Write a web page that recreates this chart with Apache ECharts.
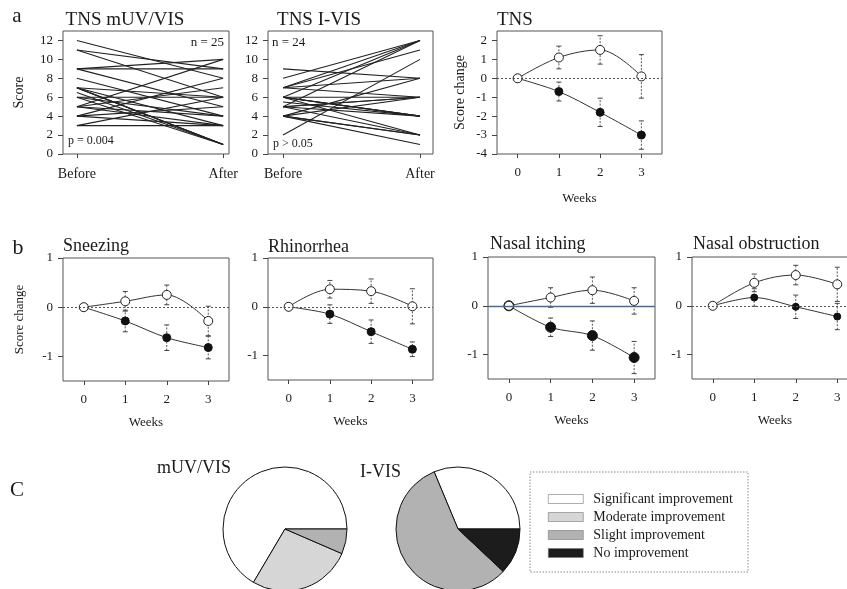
<!DOCTYPE html>
<html><head><meta charset="utf-8">
<script src="https://cdn.jsdelivr.net/npm/echarts@6/dist/echarts.min.js"></script>
<style>html,body{margin:0;padding:0;background:#fff}#c{width:847px;height:589px}</style>
</head><body><div id="c"></div>
<script>
// ---------- DATA ----------
const beforeAfterLabels = ['Before', 'After'];
const mUVBefore = [12, 11, 11, 9, 9, 9, 8, 7, 7, 7, 7, 6.5, 7, 6, 6, 6, 5, 5, 5, 5, 4, 4, 4, 3, 3];
const mUVAfter  = [8, 6, 9, 9, 10, 5, 4, 1, 1, 1, 3, 1, 6, 1, 4, 6, 10, 7, 3, 4, 8, 5, 3, 3, 6];
const iVISBefore = [9, 8, 7, 7, 7, 7, 6, 6, 6, 6, 6, 6, 5.5, 5, 5, 5, 5, 5, 4, 4, 4, 4, 4, 2];
const iVISAfter  = [8, 12, 12, 11, 6, 8, 12, 4, 4, 4, 2, 6, 4, 6, 6, 2, 12, 4, 8, 2, 2, 6, 1, 10];

const weeks = [0, 1, 2, 3];
const tnsOpen = [0, 1.1, 1.5, 0.1];
const tnsOpenErr = [0, 0.6, 0.75, 1.15];
const tnsFilled = [0, -0.7, -1.8, -3.0];
const tnsFilledErr = [0, 0.5, 0.75, 0.75];

const sneezingOpen = [0, 0.12, 0.25, -0.28];
const sneezingOpenErr = [0, 0.2, 0.2, 0.3];
const sneezingFilled = [0, -0.28, -0.62, -0.82];
const sneezingFilledErr = [0, 0.22, 0.26, 0.23];

const rhinorrheaOpen = [0, 0.36, 0.32, 0.01];
const rhinorrheaOpenErr = [0, 0.18, 0.25, 0.36];
const rhinorrheaFilled = [0, -0.15, -0.51, -0.87];
const rhinorrheaFilledErr = [0, 0.19, 0.24, 0.15];

const itchingOpen = [0, 0.17, 0.32, 0.1];
const itchingOpenErr = [0, 0.2, 0.27, 0.27];
const itchingFilled = [0, -0.44, -0.61, -1.06];
const itchingFilledErr = [0, 0.19, 0.3, 0.33];

const obstructionOpen = [0, 0.47, 0.63, 0.44];
const obstructionOpenErr = [0, 0.18, 0.2, 0.35];
const obstructionFilled = [0, 0.17, -0.02, -0.22];
const obstructionFilledErr = [0, 0.18, 0.24, 0.27];

const tnsTicks = [-4, -3, -2, -1, 0, 1, 2];
const scoreTicks = [0, 2, 4, 6, 8, 10, 12];
const symptomTicks = [-1, 0, 1];

const improvementCategories = ['Significant improvement', 'Moderate improvement', 'Slight improvement', 'No improvement'];
const pieMUV = [66.5, 27, 6.5, 0];
const pieIVIS = [31.3, 0, 56.7, 12];

// ---------- STYLE ----------
const FONT = '"Liberation Serif", "DejaVu Serif", serif';
const INK = '#1a1a1a';
const BOX = '#555';
const pieColors = ['#ffffff', '#d6d6d6', '#b2b2b2', '#1c1c1c'];

const grids = [
  {left: 63, top: 31, width: 166, height: 123},
  {left: 268, top: 31, width: 165, height: 123},
  {left: 497, top: 31, width: 165, height: 123},
  {left: 63, top: 258, width: 166, height: 123},
  {left: 268, top: 258, width: 165, height: 122},
  {left: 488, top: 257, width: 167, height: 122},
  {left: 692, top: 257, width: 166, height: 122}
].map(g => Object.assign({show: true, borderColor: BOX, borderWidth: 1, backgroundColor: 'transparent', containLabel: false, outerBoundsMode: 'none'}, g));

function xAxisCfg(gi, min, max, values, formatter, name, nameGap) {
  return {
    type: 'value', gridIndex: gi, min: min, max: max, position: 'bottom',
    splitLine: {show: false}, axisLine: {show: false, onZero: false},
    axisTick: {show: true, length: 4, customValues: values, lineStyle: {color: '#444'}},
    axisLabel: {customValues: values, formatter: formatter, color: INK, fontFamily: FONT, fontSize: gi < 2 ? 14 : 13, margin: gi < 2 ? 13 : 12},
    name: name || '', nameLocation: 'middle', nameGap: nameGap || 30,
    nameTextStyle: {fontFamily: FONT, fontSize: 13, color: INK}
  };
}
function yAxisCfg(gi, min, max, values, name, nameGap, nameSize) {
  return {
    type: 'value', gridIndex: gi, min: min, max: max, position: 'left',
    splitLine: {show: false}, axisLine: {show: false, onZero: false},
    axisTick: {show: true, length: 5, customValues: values, lineStyle: {color: '#444'}},
    axisLabel: {customValues: values, color: INK, fontFamily: FONT, fontSize: 13, margin: 10},
    name: name || '', nameLocation: 'middle', nameGap: nameGap || 30, nameRotate: 90,
    nameTextStyle: {fontFamily: FONT, fontSize: nameSize || 14, color: INK}
  };
}

const xAxes = [
  xAxisCfg(0, -0.095, 1.04, [0, 1], v => beforeAfterLabels[v]),
  xAxisCfg(1, -0.11, 1.095, [0, 1], v => beforeAfterLabels[v]),
  xAxisCfg(2, -0.5, 3.5, weeks, null, 'Weeks', 38),
  xAxisCfg(3, -0.5, 3.5, weeks, null, 'Weeks', 35),
  xAxisCfg(4, -0.5, 3.5, weeks, null, 'Weeks', 35),
  xAxisCfg(5, -0.5, 3.5, weeks, null, 'Weeks', 35),
  xAxisCfg(6, -0.5, 3.5, weeks, null, 'Weeks', 35)
];
const yAxes = [
  yAxisCfg(0, 0, 13, scoreTicks, 'Score', 37),
  yAxisCfg(1, 0, 13, scoreTicks),
  yAxisCfg(2, -4, 2.5, tnsTicks, 'Score change', 30),
  yAxisCfg(3, -1.5, 1, symptomTicks, 'Score change', 37, 13),
  yAxisCfg(4, -1.5, 1, symptomTicks),
  yAxisCfg(5, -1.5, 1, symptomTicks),
  yAxisCfg(6, -1.5, 1, symptomTicks)
];

const series = [];

function pairLines(gi, before, after) {
  before.forEach((b, i) => {
    series.push({
      type: 'line', xAxisIndex: gi, yAxisIndex: gi, silent: true,
      showSymbol: false, symbol: 'none',
      lineStyle: {color: '#222', width: 1.1},
      data: [[0, b], [1, after[i]]]
    });
  });
}
pairLines(0, mUVBefore, mUVAfter);
pairLines(1, iVISBefore, iVISAfter);

function errBars(gi, mean, err) {
  const data = [];
  weeks.forEach((w, i) => { if (err[i] > 0) data.push([w, mean[i] - err[i], mean[i] + err[i]]); });
  series.push({
    type: 'custom', xAxisIndex: gi, yAxisIndex: gi, silent: true, z: 1,
    encode: {x: 0, y: [1, 2]},
    data: data,
    renderItem: function (params, api) {
      const x = api.value(0);
      const p1 = api.coord([x, api.value(1)]);
      const p2 = api.coord([x, api.value(2)]);
      const c = 2.5;
      const st = {stroke: '#444', lineWidth: 1};
      return {type: 'group', children: [
        {type: 'line', shape: {x1: p1[0], y1: p1[1], x2: p2[0], y2: p2[1]}, style: {stroke: '#555', lineWidth: 1, lineDash: [2, 1.5]}},
        {type: 'line', shape: {x1: p1[0] - c, y1: p1[1], x2: p1[0] + c, y2: p1[1]}, style: st},
        {type: 'line', shape: {x1: p2[0] - c, y1: p2[1], x2: p2[0] + c, y2: p2[1]}, style: st}
      ]};
    }
  });
}

function timePanel(gi, open, openErr, filled, filledErr, zeroLine, filledSize) {
  errBars(gi, open, openErr);
  errBars(gi, filled, filledErr);
  series.push({
    type: 'line', xAxisIndex: gi, yAxisIndex: gi, z: 3, silent: true,
    smooth: 0.3, symbol: 'circle', symbolSize: filledSize || 8,
    itemStyle: {color: '#111', borderColor: '#111', borderWidth: 1},
    lineStyle: {color: '#333', width: 1},
    data: weeks.map((w, i) => [w, filled[i]]),
    markLine: {
      silent: true, symbol: 'none', label: {show: false},
      lineStyle: zeroLine,
      data: [{yAxis: 0}]
    }
  });
  series.push({
    type: 'line', xAxisIndex: gi, yAxisIndex: gi, z: 4, silent: true,
    smooth: 0.35, symbol: 'circle', symbolSize: 9,
    itemStyle: {color: '#fff', borderColor: '#222', borderWidth: 1},
    lineStyle: {color: '#333', width: 1},
    data: weeks.map((w, i) => [w, open[i]])
  });
}
const dottedZero = {color: '#555', width: 1, type: [2, 2]};
timePanel(2, tnsOpen, tnsOpenErr, tnsFilled, tnsFilledErr, dottedZero);
timePanel(3, sneezingOpen, sneezingOpenErr, sneezingFilled, sneezingFilledErr, dottedZero);
timePanel(4, rhinorrheaOpen, rhinorrheaOpenErr, rhinorrheaFilled, rhinorrheaFilledErr, dottedZero);
timePanel(5, itchingOpen, itchingOpenErr, itchingFilled, itchingFilledErr, {color: '#4f6c84', width: 1.3, type: 'solid'}, 10);
timePanel(6, obstructionOpen, obstructionOpenErr, obstructionFilled, obstructionFilledErr, dottedZero, 7);

function pieSeries(center, values) {
  series.push({
    type: 'pie', center: center, radius: 62, startAngle: 0, clockwise: false,
    silent: true, label: {show: false}, labelLine: {show: false},
    itemStyle: {borderColor: '#111', borderWidth: 1},
    data: improvementCategories.map((n, i) => ({name: n, value: values[i], itemStyle: {color: pieColors[i]}})).filter(d => d.value > 0)
  });
}
pieSeries([285, 529], pieMUV);
pieSeries([458, 529], pieIVIS);

function txt(text, x, y, size, align, extra) {
  return Object.assign({type: 'text', x: x, y: y, silent: true,
    style: {text: text, font: size + 'px ' + FONT, fill: INK, textAlign: align || 'left', textVerticalAlign: 'middle'}}, extra || {});
}

const option = {
  animation: false,
  backgroundColor: '#fff',
  grid: grids,
  xAxis: xAxes,
  yAxis: yAxes,
  series: series,
  legend: {
    show: true, orient: 'vertical', left: 543, top: 487,
    data: improvementCategories,
    icon: 'rect', itemWidth: 35, itemHeight: 9, itemGap: 4,
    selectedMode: false,
    itemStyle: {borderWidth: 0.6, borderColor: '#777'},
    textStyle: {fontFamily: FONT, fontSize: 14, color: INK, lineHeight: 14, padding: [0, 0, 0, 5]}
  },
  graphic: [
    txt('a', 17, 16, 21, 'center'),
    txt('TNS mUV/VIS', 125, 20, 19, 'center'),
    txt('TNS I-VIS', 319, 20, 19, 'center'),
    txt('TNS', 497, 20, 19, 'left'),
    txt('n = 25', 224, 43, 13, 'right'),
    txt('p = 0.004', 68, 141, 12, 'left'),
    txt('n = 24', 272, 43, 13, 'left'),
    txt('p > 0.05', 273, 144, 12, 'left'),
    txt('b', 18, 248, 22, 'center'),
    txt('Sneezing', 63, 246, 18, 'left'),
    txt('Rhinorrhea', 268, 247, 18, 'left'),
    txt('Nasal itching', 490, 244, 18, 'left'),
    txt('Nasal obstruction', 693, 244, 18, 'left'),
    txt('C', 17, 490, 21, 'center'),
    txt('mUV/VIS', 157, 468, 18, 'left'),
    txt('I-VIS', 360, 472, 18, 'left'),
    {type: 'rect', silent: true, z: -1, shape: {x: 530, y: 472, width: 218, height: 100},
     style: {fill: 'transparent', stroke: '#888', lineWidth: 1, lineDash: [1.5, 1.5]}}
  ]
};

const chart = echarts.init(document.getElementById('c'), null, {renderer: 'canvas'});
chart.setOption(option);
</script>
</body></html>
